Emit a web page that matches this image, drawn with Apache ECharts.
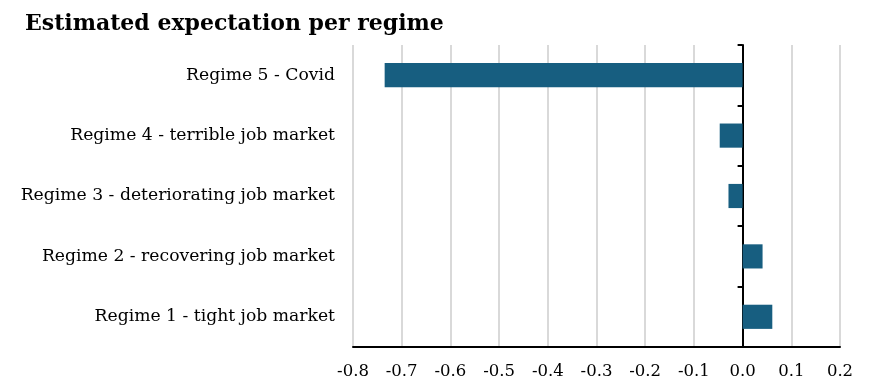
<!DOCTYPE html>
<html><head><meta charset="utf-8">
<script src="https://cdn.jsdelivr.net/npm/echarts@6/dist/echarts.min.js"></script>
<style>html,body{margin:0;padding:0;background:#fff}#c{width:876px;height:390px}</style>
</head><body><div id="c"></div>
<script>
const categories = ["Regime 1 - tight job market","Regime 2 - recovering job market","Regime 3 - deteriorating job market","Regime 4 - terrible job market","Regime 5 - Covid"];
const values = [0.061, 0.041, -0.029, -0.047, -0.735];
const xMin = -0.8, xMax = 0.2, xStep = 0.1;
const title = "Estimated expectation per regime";
const font = "DejaVu Serif";
const chart = echarts.init(document.getElementById('c'));
chart.setOption({
  animation:false,
  title:{text:title,left:20,top:8,textStyle:{fontFamily:font,fontWeight:'bold',fontSize:22,color:'#000'}},
  grid:{left:353,right:36,top:45,bottom:43,containLabel:false},
  xAxis:{type:'value',min:xMin,max:xMax,interval:xStep,
    axisLine:{show:true,onZero:false,lineStyle:{color:'#000',width:2}},
    axisTick:{show:false},
    splitLine:{show:true,lineStyle:{color:'#d9d9d9',width:2}},
    axisLabel:{margin:16,fontFamily:font,fontSize:16.5,color:'#000',formatter:v=>v.toFixed(1)}},
  yAxis:[
    {type:'category',data:categories,position:'left',
      axisLine:{show:false,onZero:false},axisTick:{show:false},splitLine:{show:false},
      axisLabel:{margin:18,fontFamily:font,fontSize:17.2,color:'#000'}},
    {type:'category',data:categories,position:'left',
      axisLine:{show:true,onZero:true,onZeroAxisIndex:0,lineStyle:{color:'#000',width:2}},
      axisTick:{show:true,length:5,lineStyle:{color:'#000',width:2}},
      axisLabel:{show:false},splitLine:{show:false}}
  ],
  series:[{type:'bar',data:values,yAxisIndex:0,barWidth:'40%',itemStyle:{color:'#175e80'}}]
});
</script></body></html>
